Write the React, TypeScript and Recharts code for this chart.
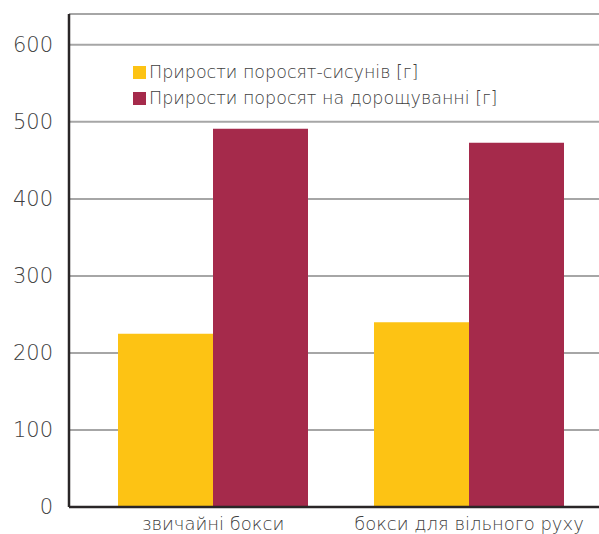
import React from "react";
import { BarChart, Bar, XAxis, YAxis, CartesianGrid } from "recharts";

const categories = ["звичайні бокси", "бокси для вільного руху"];
const sucklingGain = [225, 240];
const nurseryGain = [491, 473];
const yTicks = [0, 100, 200, 300, 400, 500, 600];
const seriesNames = ["Прирости поросят-сисунів [г]", "Прирости поросят на дорощуванні [г]"];
const colors = ["#fdc314", "#a52a4b"];

const data = categories.map((c, i) => ({ name: c, a: sucklingGain[i], b: nurseryGain[i] }));

const FONT = "'DejaVu Sans ExtraLight', 'DejaVu Sans Light', 'DejaVu Sans', sans-serif";

export default function App() {
  return (
    <div style={{ position: "absolute", left: 0, top: 0, width: 599, height: 534, background: "#fff" }}>
      <BarChart
        width={599}
        height={534}
        data={data}
        margin={{ top: 14, right: 0, bottom: 0, left: 0 }}
        barGap={0}
        barSize={95}
      >
        <CartesianGrid horizontal vertical={false} stroke="#a6a6a6" strokeWidth={2} />
        <XAxis
          dataKey="name"
          height={27}
          padding={{ left: 16, right: 2 }}
          axisLine={{ stroke: "#2a2627", strokeWidth: 2.5 }}
          tickLine={false}
          tick={{ fill: "#404040", fontSize: 18, fontFamily: FONT, fontWeight: 200 }}
          tickMargin={4}
          interval={0}
        />
        <YAxis
          width={69}
          domain={[0, 640]}
          ticks={yTicks}
          allowDataOverflow
          axisLine={{ stroke: "#2a2627", strokeWidth: 2.5 }}
          tickLine={false}
          tickMargin={10}
          tick={{ fill: "#404040", fontSize: 21, fontFamily: FONT, fontWeight: 200 }}
        />
        <Bar dataKey="a" fill={colors[0]} isAnimationActive={false} />
        <Bar dataKey="b" fill={colors[1]} isAnimationActive={false} />
      </BarChart>
      <div style={{ position: "absolute", left: 133, top: 59, fontFamily: FONT, fontWeight: 200, fontSize: 17.5, color: "#404040" }}>
        {seriesNames.map((n, i) => (
          <div key={n} style={{ display: "flex", alignItems: "center", height: 26 }}>
            <span style={{ display: "inline-block", width: 13, height: 13, background: colors[i], marginRight: 3 }} />
            <span>{n}</span>
          </div>
        ))}
      </div>
    </div>
  );
}
